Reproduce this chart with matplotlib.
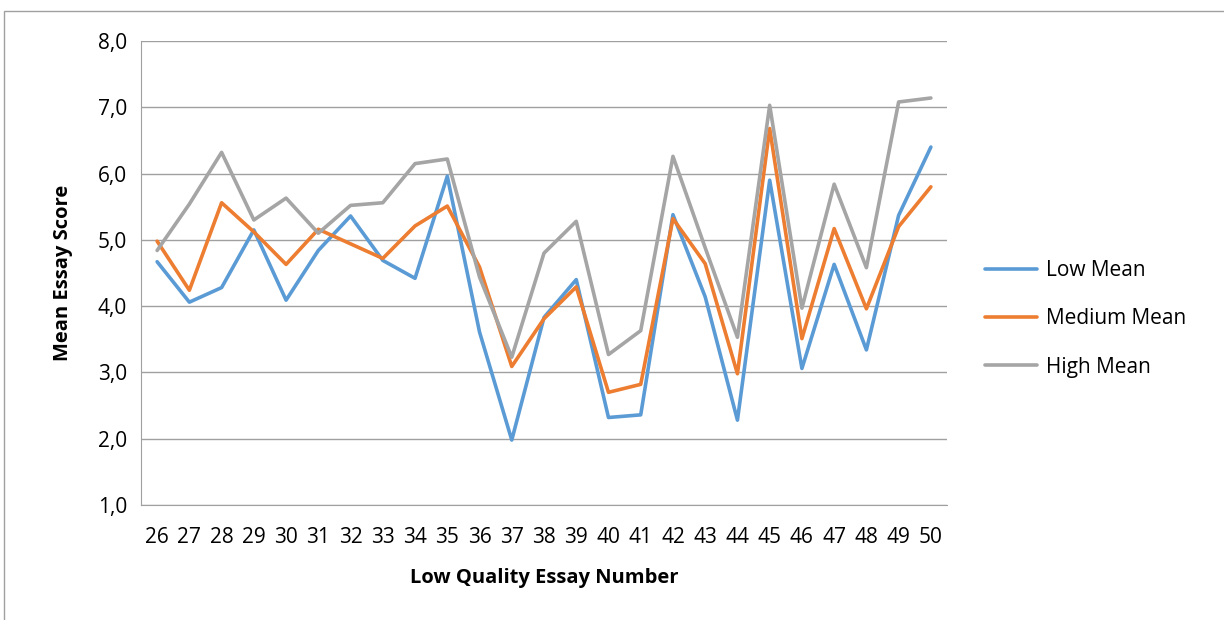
import matplotlib
matplotlib.use('Agg')
import matplotlib.pyplot as plt
from matplotlib.patches import Rectangle

plt.rcParams['font.family'] = ['Open Sans', 'DejaVu Sans']

essays = list(range(26, 51))
low_mean = [4.67, 4.06, 4.28, 5.15, 4.09, 4.84, 5.36, 4.69, 4.42, 5.96,
            3.61, 1.98, 3.83, 4.40, 2.32, 2.36, 5.38, 4.14, 2.28, 5.90,
            3.06, 4.63, 3.34, 5.37, 6.40]
medium_mean = [4.98, 4.24, 5.56, 5.12, 4.63, 5.16, 4.94, 4.72, 5.21, 5.51,
               4.59, 3.09, 3.81, 4.29, 2.70, 2.82, 5.32, 4.64, 2.98, 6.68,
               3.51, 5.17, 3.96, 5.20, 5.80]
high_mean = [4.84, 5.54, 6.32, 5.30, 5.63, 5.10, 5.52, 5.56, 6.15, 6.22,
             4.44, 3.23, 4.80, 5.28, 3.27, 3.63, 6.26, 4.88, 3.53, 7.03,
             3.97, 5.84, 4.58, 7.08, 7.14]

series = [('Low Mean', low_mean, '#5B9BD5'),
          ('Medium Mean', medium_mean, '#ED7D31'),
          ('High Mean', high_mean, '#A5A5A5')]

fig = plt.figure(figsize=(12.24, 6.2), dpi=100)
ax = fig.add_axes([141 / 1224, 1 - 505 / 620, (947 - 141) / 1224, (505 - 41) / 620])

for name, vals, color in series:
    ax.plot(essays, vals, color=color, linewidth=2.6, label=name,
            solid_joinstyle='round', solid_capstyle='round')

ax.set_xlim(25.5, 50.5)
ax.set_ylim(1, 8)
ax.set_xticks(essays)
ax.set_xticklabels([str(e) for e in essays])
yt = [1, 2, 3, 4, 5, 6, 7, 8]
ax.set_yticks(yt)
ax.set_yticklabels([f'{v:.1f}'.replace('.', ',') for v in yt])
ax.yaxis.grid(True, color='#a0a0a0', linewidth=1)
ax.set_axisbelow(True)
ax.tick_params(length=0, labelsize=15, colors='#000000', pad=10)
ax.tick_params(axis='x', pad=16)
for side in ['top', 'right']:
    ax.spines[side].set_visible(False)
ax.spines['left'].set_color('#a0a0a0')
ax.spines['bottom'].set_color('#a0a0a0')

ax.set_xlabel('Low Quality Essay Number', fontsize=14.5, fontweight='bold', labelpad=14)
ax.set_ylabel('Mean Essay Score', fontsize=14.5, fontweight='bold', labelpad=18)

fig.legend(loc='center left', bbox_to_anchor=(985 / 1224, 1 - 319 / 620),
           bbox_transform=fig.transFigure, frameon=False, fontsize=15,
           handlelength=2.5, labelspacing=1.3, handletextpad=0.45,
           borderpad=0, borderaxespad=0)

# outer chart frame
fig.patches.append(Rectangle((4 / 1224, -0.1), 1.2, 1 - 11 / 620 + 0.1,
                             transform=fig.transFigure, fill=False,
                             edgecolor='#a0a0a0', linewidth=1))

fig.savefig('out.png', dpi=100)
